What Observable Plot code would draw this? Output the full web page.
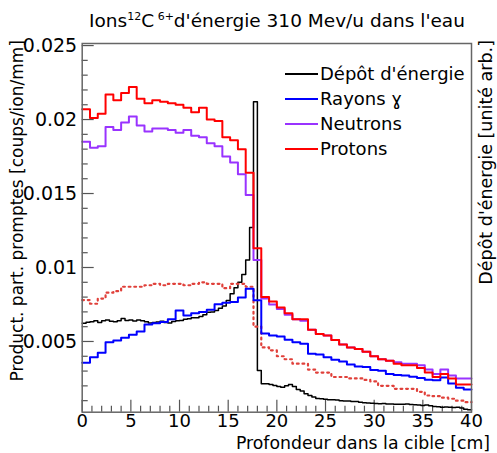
<!DOCTYPE html>
<html><head><meta charset="utf-8">
<script src="https://cdn.jsdelivr.net/npm/d3@7"></script>
<script src="https://cdn.jsdelivr.net/npm/@observablehq/plot@0.6"></script>
<style>
body{margin:0;background:#fff;}
#wrap{position:relative;width:497px;height:453px;font-family:"DejaVu Sans";}
#over{position:absolute;left:0;top:0;pointer-events:none;}
#legend{position:absolute;left:285px;top:61px;font:18px "DejaVu Sans";color:#000;}
#legend .row{height:25px;display:flex;align-items:center;}
#legend .sw{width:33px;height:2px;margin-right:2px;}
</style></head>
<body><div id="wrap"></div>
<script>
// ---- data (bin widths in cm) ----
const binWidth = 0.8;       // coloured histograms, 50 bins over 0-40 cm
const depotBinWidth = 0.4;  // energy deposit, 100 bins
const protons = [0.0207,0.0201,0.0204,0.0217,0.0213,0.0218,0.0222,0.0214,0.0211,0.0213,
 0.0212,0.0211,0.0210,0.0208,0.0205,0.0208,0.0200,0.0199,0.0188,0.0186,
 0.0180,0.0164,0.0113,0.0080,0.0077,0.0073,0.0069,0.0065,0.0065,0.0058,
 0.0055,0.0054,0.0051,0.0048,0.0046,0.0045,0.0043,0.0040,0.0038,0.0037,
 0.0035,0.0034,0.0034,0.0032,0.0029,0.0026,0.0028,0.0025,0.0021,0.0021];
const neutrons = [0.0185,0.0181,0.0182,0.0195,0.0193,0.0198,0.0202,0.0196,0.0192,0.0194,
 0.0194,0.0193,0.0191,0.0193,0.0189,0.0188,0.0184,0.0182,0.0175,0.0171,
 0.0163,0.0149,0.0105,0.0079,0.0075,0.0072,0.0068,0.0065,0.0064,0.0058,
 0.0055,0.0054,0.0051,0.0048,0.0046,0.0045,0.0043,0.0040,0.0038,0.0037,
 0.0036,0.0035,0.0035,0.0034,0.0031,0.0028,0.0031,0.0027,0.0025,0.0025];
const gammas = [0.00356,0.00394,0.00423,0.00495,0.00507,0.00525,0.00545,0.00568,0.00615,0.00624,
 0.00631,0.00650,0.00709,0.00676,0.00690,0.00700,0.00714,0.00752,0.00762,0.00766,
 0.00798,0.00856,0.00778,0.00554,0.00541,0.00534,0.00511,0.00495,0.00484,0.00417,
 0.00412,0.00394,0.00376,0.00365,0.00345,0.00331,0.00327,0.00307,0.00302,0.00280,
 0.00274,0.00270,0.00262,0.00254,0.00242,0.00238,0.00257,0.00216,0.00188,0.00175];
const protonsDotted = [0.0078,0.00755,0.0079,0.0083,0.0084,0.0087,0.0087,0.0087,0.0088,0.0089,
 0.0088,0.0089,0.0089,0.0088,0.0089,0.0090,0.0089,0.0089,0.0086,0.0089,
 0.0089,0.0087,0.0060,0.0046,0.0044,0.0040,0.0038,0.0035,0.0035,0.0031,
 0.0029,0.0029,0.0026,0.0026,0.0025,0.0025,0.0024,0.0023,0.0020,0.0020,
 0.0018,0.0018,0.0018,0.0016,0.00135,0.0013,0.0012,0.00113,0.0010,0.0009];
const depot = [0.00624,0.0063,0.00633,0.0064,0.00628,0.0064,0.00645,0.00636,0.00633,0.0064,
 0.00655,0.00642,0.00645,0.00638,0.00645,0.0064,0.00633,0.00625,0.00628,0.00632,
 0.00636,0.00628,0.00625,0.00635,0.0064,0.00642,0.0065,0.00653,0.0066,0.0066,
 0.00669,0.0068,0.00698,0.0070,0.0071,0.00725,0.0074,0.00777,0.00822,0.00863,
 0.0090,0.00953,0.0105,0.0127,0.0212,0.00304,0.00214,0.00214,0.0021,0.00203,
 0.00195,0.00191,0.0020,0.0021,0.00195,0.00175,0.00165,0.00147,0.00135,0.00125,
 0.00115,0.00113,0.0011,0.00106,0.00106,0.00104,0.0010,0.00097,0.00097,0.00095,
 0.00094,0.0009,0.00086,0.00084,0.00082,0.0008,0.00079,0.0008,0.00077,0.00078,
 0.00076,0.00076,0.00075,0.00078,0.00074,0.00072,0.0007,0.00068,0.0007,0.00066,
 0.0006,0.00058,0.00056,0.00057,0.00055,0.00054,0.00056,0.0005,0.00042,0.00039];
const xMajor = [0,5,10,15,20,25,30,35,40];
const xMinor = [1,2,3,4,6,7,8,9,11,12,13,14,16,17,18,19,21,22,23,24,26,27,28,29,31,32,33,34,36,37,38,39];
const yMajor = [0.005,0.01,0.015,0.02,0.025];
const yMajorLabels = ["0.005","0.01","0.015","0.02","0.025"];
const yMinor = [0.001,0.002,0.003,0.004,0.006,0.007,0.008,0.009,0.011,0.012,0.013,0.014,0.016,0.017,0.018,0.019,0.021,0.022,0.023,0.024];
const legendNames = ["Dépôt d'énergie","Rayons ɣ","Neutrons","Protons"];
const colors = {depot:"#000000", gamma:"#0000ff", neutron:"#9933ff", proton:"#ff0000", dotted:"#e0403a"};

const steps = (vals,w) => { const p = vals.map((v,i)=>({x:i*w,y:v})); p.push({x:vals.length*w,y:vals[vals.length-1]}); return p; };

const W=497,H=453,mL=81.7,mR=26,mT=43,mB=41.3;
const plotH = H-mT-mB, plotW = W-mL-mR;
const tickCol="#555";
const chart = Plot.plot({
  width:W,height:H,marginLeft:mL,marginRight:mR,marginTop:mT,marginBottom:mB,
  style:{fontFamily:"DejaVu Sans",fontSize:"18px",color:"#000",background:"#fff"},
  x:{domain:[0,40]},
  y:{domain:[0.00022,0.02514]},
  marks:[
    Plot.tickX(xMajor,{x:d=>d,insetTop:plotH-12,stroke:tickCol,strokeWidth:1.2}),
    Plot.tickX(xMinor,{x:d=>d,insetTop:plotH-6,stroke:tickCol,strokeWidth:1.2}),
    Plot.tickY(yMajor,{y:d=>d,insetRight:plotW-12,stroke:tickCol,strokeWidth:1.2}),
    Plot.tickY(yMinor,{y:d=>d,insetRight:plotW-6,stroke:tickCol,strokeWidth:1.2}),
    Plot.axisX({ticks:xMajor,tickSize:0,tickPadding:2,fontSize:18,tickFormat:d=>String(d),label:null}),
    Plot.axisY({ticks:yMajor,tickSize:0,tickPadding:5,fontSize:19,tickFormat:d=>yMajorLabels[yMajor.indexOf(d)],label:null}),
    Plot.line(steps(depot,depotBinWidth),{x:"x",y:"y",curve:"step-after",stroke:colors.depot,strokeWidth:1.5}),
    Plot.line(steps(protonsDotted,binWidth),{x:"x",y:"y",curve:"step-after",stroke:colors.dotted,strokeWidth:2.2,strokeDasharray:"1.8,3.8"}),
    Plot.line(steps(gammas,binWidth),{x:"x",y:"y",curve:"step-after",stroke:colors.gamma,strokeWidth:2}),
    Plot.line(steps(neutrons,binWidth),{x:"x",y:"y",curve:"step-after",stroke:colors.neutron,strokeWidth:2}),
    Plot.line(steps(protons,binWidth),{x:"x",y:"y",curve:"step-after",stroke:colors.proton,strokeWidth:2}),
    Plot.frame({stroke:"#666",strokeWidth:1.5})
  ]
});
const wrap=document.getElementById("wrap");
wrap.appendChild(chart);

// overlay texts
const ns="http://www.w3.org/2000/svg";
const over=document.createElementNS(ns,"svg");
over.setAttribute("id","over");over.setAttribute("width",W);over.setAttribute("height",H);
over.innerHTML = `
<text x="277" y="27" text-anchor="middle" font-family="DejaVu Sans" font-size="18.5" fill="#000">Ions<tspan font-size="11" dy="-7">12</tspan><tspan dy="7">C</tspan><tspan font-size="11" dy="-7"> 6+</tspan><tspan dy="7">d'énergie 310 Mev/u dans l'eau</tspan></text>
<text x="490" y="449" text-anchor="end" font-family="DejaVu Sans" font-size="17.3" fill="#000">Profondeur dans la cible [cm]</text>
<text transform="translate(23,40) rotate(-90)" text-anchor="end" font-family="DejaVu Sans" font-size="17" fill="#000">Product. part. promptes [coups/ion/mm]</text>
<text transform="translate(492,40) rotate(-90)" text-anchor="end" font-family="DejaVu Sans" font-size="17.5" fill="#000">Dépôt d'énergie [unité arb.]</text>`;
wrap.appendChild(over);

// legend
const leg=document.createElement("div");leg.id="legend";
const legCols=[colors.depot,colors.gamma,colors.neutron,colors.proton];
legendNames.forEach((n,i)=>{const r=document.createElement("div");r.className="row";
 r.innerHTML=`<div class="sw" style="background:${legCols[i]}"></div><span>${n}</span>`;leg.appendChild(r);});
wrap.appendChild(leg);
</script></body></html>
